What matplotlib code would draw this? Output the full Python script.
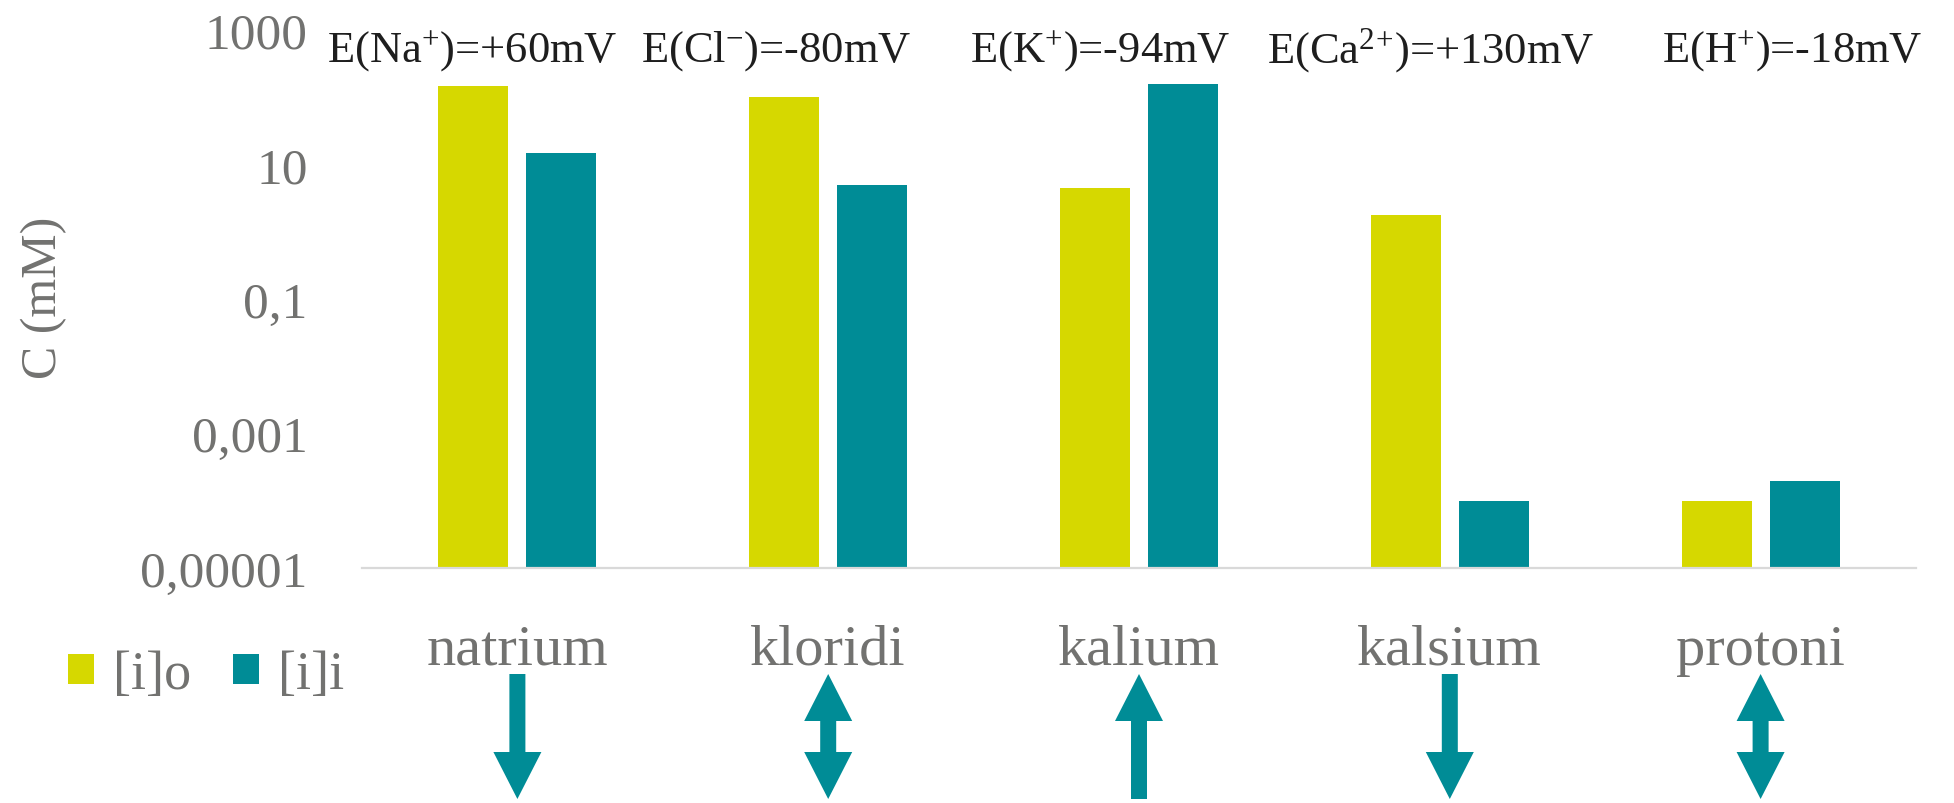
import matplotlib
matplotlib.use("Agg")
import matplotlib.pyplot as plt
import matplotlib.patches as mpatches
import numpy as np

# ── Data ─────────────────────────────────────────────────────
categories    = ["natrium", "kloridi", "kalium", "kalsium", "protoni"]
conc_out      = [145, 100, 4.5, 1.8, 0.0001]      # [i]o  (mM)
conc_in       = [15, 5, 155, 0.0001, 0.0002]      # [i]i  (mM)
series_names  = ["[i]o", "[i]i"]
nernst_labels = [r"E(Na$^{+}$)=+60mV", r"E(Cl$^{-}$)=-80mV", r"E(K$^{+}$)=-94mV",
                 r"E(Ca$^{2}$$^{+}$)=+130mV", r"E(H$^{+}$)=-18mV"]
flux          = ["down", "both", "up", "down", "both"]
ytick_vals    = [1000, 10, 0.1, 0.001, 0.00001]
ytick_labels  = ["1000", "10", "0,1", "0,001", "0,00001"]

# ── Palette ──────────────────────────────────────────────────
YELLOW = "#D6D800"
TEAL   = "#008C96"
GREY   = "#727270"
AXLINE = "#D9D9D9"
BLACK  = "#1E1E1E"

plt.rcParams["font.family"] = ["Liberation Serif", "DejaVu Serif"]
plt.rcParams["mathtext.fontset"] = "custom"
plt.rcParams["mathtext.rm"] = "Liberation Serif"
plt.rcParams["mathtext.it"] = "Liberation Serif:italic"
plt.rcParams["mathtext.bf"] = "Liberation Serif:bold"

# ── Layout (px) ──────────────────────────────────────────────
DPI = 100
W, H = 1954, 804
AX_L, AX_R, AX_T, AX_B = 362, 1916, 31, 569

fig = plt.figure(figsize=(W / DPI, H / DPI), dpi=DPI)
fig.patch.set_facecolor("white")
ax = fig.add_axes([AX_L / W, 1 - AX_B / H, (AX_R - AX_L) / W, (AX_B - AX_T) / H])

x = np.arange(len(categories))
bw = 0.225
off = 0.1416
ax.bar(x - off, conc_out, bw, color=YELLOW, label=series_names[0], zorder=2)
ax.bar(x + off, conc_in, bw, color=TEAL, label=series_names[1], zorder=2)

ax.set_yscale("log")
ax.set_ylim(1e-5, 1000)
ax.set_xlim(-0.5, len(categories) - 0.5)
ax.set_yticks(ytick_vals)
ax.set_yticklabels(ytick_labels)
ax.yaxis.set_minor_locator(matplotlib.ticker.NullLocator())
ax.set_xticks(x)
ax.set_xticklabels(categories)
ax.tick_params(axis="y", length=0, pad=39, labelsize=37, labelcolor=GREY)
ax.tick_params(axis="x", length=0, pad=40, labelsize=42, labelcolor=GREY)

for s in ["top", "right", "left"]:
    ax.spines[s].set_visible(False)
ax.spines["bottom"].set_color(AXLINE)
ax.spines["bottom"].set_linewidth(1.6)

fig.text(44 / W, 1 - 298 / H, "C (mM)", rotation=90, ha="center", va="center",
         fontsize=36, color=GREY)

# ── Nernst potentials on top ─────────────────────────────────
label_x = [472, 776, 1100, 1431, 1792]
for lx, lab in zip(label_x, nernst_labels):
    fig.text(lx / W, 1 - 51 / H, lab, ha="center", va="center", fontsize=32, color=BLACK)

# ── Legend ───────────────────────────────────────────────────
fig.legend(loc="center left", bbox_to_anchor=(68 / W, 1 - 676 / H), ncol=2,
           frameon=False, fontsize=39, handlelength=0.48, handleheight=0.48,
           handletextpad=0.35, columnspacing=0.78, borderpad=0, borderaxespad=0,
           labelcolor=GREY)

# ── Flux arrows ──────────────────────────────────────────────
ov = fig.add_axes([0, 0, 1, 1])
ov.set_xlim(0, W)
ov.set_ylim(H, 0)
ov.axis("off")

TOP, BOT, HL, SW, HW = 675, 800, 47, 8, 24
for i, d in enumerate(flux):
    cx = ax.transData.transform((i, 1.0))[0]
    if d == "up":
        pts = [(cx, TOP), (cx + HW, TOP + HL), (cx + SW, TOP + HL), (cx + SW, BOT),
               (cx - SW, BOT), (cx - SW, TOP + HL), (cx - HW, TOP + HL)]
    elif d == "down":
        pts = [(cx - SW, TOP), (cx + SW, TOP), (cx + SW, BOT - HL), (cx + HW, BOT - HL),
               (cx, BOT), (cx - HW, BOT - HL), (cx - SW, BOT - HL)]
    else:
        pts = [(cx, TOP), (cx + HW, TOP + HL), (cx + SW, TOP + HL), (cx + SW, BOT - HL),
               (cx + HW, BOT - HL), (cx, BOT), (cx - HW, BOT - HL), (cx - SW, BOT - HL),
               (cx - SW, TOP + HL), (cx - HW, TOP + HL)]
    ov.add_patch(mpatches.Polygon(pts, closed=True, color=TEAL, lw=0))

fig.savefig("out.png", dpi=DPI, facecolor="white")
plt.close(fig)
